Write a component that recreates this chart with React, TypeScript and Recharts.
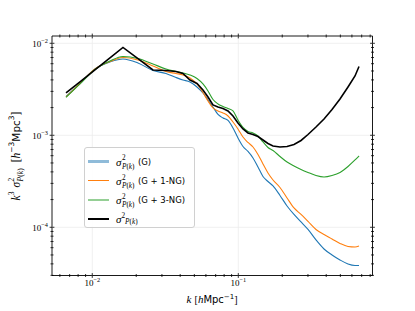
import React from "react";
import { LineChart, Line, XAxis, YAxis, ReferenceLine, ReferenceArea } from "recharts";

const W = 415;
const H = 311;
const PLOT_L = 52;
const PLOT_R = 372.5;
const PLOT_T = 36;
const PLOT_B = 275.5;

const SERIF = "'Liberation Serif', 'DejaVu Serif', serif";
const SANS = "'DejaVu Sans', sans-serif";

// k in h/Mpc
const kValues = [
  0.00661, 0.00824, 0.01043, 0.01322, 0.01623, 0.02056, 0.02604, 0.03197, 0.03743, 0.04179,
  0.04668, 0.05214, 0.0573, 0.06202, 0.0671, 0.07261, 0.07855, 0.08503, 0.09199, 0.09952,
  0.1077, 0.1165, 0.1261, 0.1364, 0.1476, 0.1597, 0.1729, 0.193, 0.2157, 0.2407,
  0.2689, 0.3002, 0.3405, 0.3864, 0.4384, 0.4972, 0.5641, 0.6299, 0.6709,
];

// Gaussian only
const gaussOnly = [
  0.002641, 0.003656, 0.005256, 0.006262, 0.00675, 0.006107, 0.005061, 0.004694, 0.004249, 0.003991,
  0.003796, 0.00335, 0.002882, 0.00242, 0.00203, 0.001683, 0.001542, 0.001449, 0.0012, 0.0009348,
  0.0007555, 0.0006666, 0.0005666, 0.0004523, 0.0003566, 0.0003146, 0.0002811, 0.0002217, 0.0001704, 0.0001378,
  0.0001142, 0.00009465, 0.00007278, 0.00005808, 0.00004999, 0.00004411, 0.00003991, 0.00003844, 0.00003844,
];

// Gaussian + 1 non-Gaussian term
const gaussOneNG = [
  0.002608, 0.003656, 0.005256, 0.006339, 0.007008, 0.006585, 0.005666, 0.004937, 0.004694, 0.004523,
  0.004196, 0.003611, 0.002918, 0.00236, 0.00198, 0.001837, 0.001748, 0.001621, 0.001395, 0.001171,
  0.0009583, 0.000835, 0.000746, 0.0006184, 0.0004875, 0.0003893, 0.0003267, 0.0002708, 0.0002083, 0.0001621,
  0.0001378, 0.0001156, 0.00009465, 0.0000835, 0.0000746, 0.00006666, 0.00006184, 0.00006107, 0.00006261,
];

// Gaussian + 3 non-Gaussian terms
const gaussThreeNG = [
  0.002576, 0.003611, 0.00519, 0.006419, 0.007185, 0.006837, 0.005957, 0.005256, 0.004937, 0.004754,
  0.004523, 0.004144, 0.003611, 0.00303, 0.002449, 0.002189, 0.002056, 0.001956, 0.001837, 0.001466,
  0.001216, 0.0011, 0.001059, 0.0009826, 0.0008456, 0.0007368, 0.0006835, 0.0005883, 0.0005126, 0.0004638,
  0.0004249, 0.0003942, 0.0003656, 0.0003521, 0.0003656, 0.0003942, 0.0004581, 0.0005388, 0.0005957,
];

// full variance
const fullVariance = [
  0.002884, 0.003815, 0.005152, 0.00694, 0.009004, 0.006803, 0.005126, 0.005061, 0.004937, 0.004694,
  0.003991, 0.003656, 0.003108, 0.002609, 0.002135, 0.002031, 0.001956, 0.001837, 0.001621, 0.00136,
  0.001171, 0.001059, 0.00102, 0.0009705, 0.0008889, 0.0008146, 0.000765, 0.000746, 0.0007555, 0.0007943,
  0.0008779, 0.00102, 0.001231, 0.001504, 0.001907, 0.002481, 0.00335, 0.004412, 0.005596,
];

const X_DOMAIN = [0.0053, 0.83];
const Y_DOMAIN = [2.99e-5, 0.012];

const xMajor = [0.01, 0.1];
const xMinor = [
  0.006, 0.007, 0.008, 0.009, 0.02, 0.03, 0.04, 0.05, 0.06, 0.07, 0.08, 0.09,
  0.2, 0.3, 0.4, 0.5, 0.6, 0.7, 0.8,
];
const yMajor = [1e-4, 1e-3, 1e-2];
const yMinor = [
  3e-5, 4e-5, 5e-5, 6e-5, 7e-5, 8e-5, 9e-5,
  2e-4, 3e-4, 4e-4, 5e-4, 6e-4, 7e-4, 8e-4, 9e-4,
  2e-3, 3e-3, 4e-3, 5e-3, 6e-3, 7e-3, 8e-3, 9e-3,
];

const data = kValues.map((k, i) => ({
  k,
  g: gaussOnly[i],
  g1: gaussOneNG[i],
  g3: gaussThreeNG[i],
  full: fullVariance[i],
}));

const expOf = (v: number) => String(Math.round(Math.log10(v))).replace("-", "\u2212");

function XTick(props: any) {
  const { x, y, payload } = props;
  const v = payload.value;
  const major = xMajor.includes(v);
  const len = major ? 2.4 : 1.5;
  return (
    <g>
      <line x1={x} x2={x} y1={y - len} y2={y + len} stroke="#000" strokeWidth={0.8} />
      <line x1={x} x2={x} y1={PLOT_T - len} y2={PLOT_T + len} stroke="#000" strokeWidth={0.8} />
      {major && (
        <text x={x} y={y + 10.5} textAnchor="middle" fontFamily={SERIF} fontSize={9} fill="#000">
          10
          <tspan dy={-3.8} fontSize={6.3}>
            {expOf(v)}
          </tspan>
        </text>
      )}
    </g>
  );
}

function YTick(props: any) {
  const { x, y, payload } = props;
  const v = payload.value;
  const major = yMajor.some((m) => Math.abs(m - v) / m < 1e-6);
  const len = major ? 2.4 : 1.5;
  return (
    <g>
      <line x1={x - len} x2={x + len} y1={y} y2={y} stroke="#000" strokeWidth={0.8} />
      <line x1={PLOT_R - len} x2={PLOT_R + len} y1={y} y2={y} stroke="#000" strokeWidth={0.8} />
      {major && (
        <text x={x - 4} y={y + 3.6} textAnchor="end" fontFamily={SERIF} fontSize={9} fill="#000">
          10
          <tspan dy={-3.8} fontSize={6.3}>
            {expOf(v)}
          </tspan>
        </text>
      )}
    </g>
  );
}

// sigma^2 with stacked super/subscript P(k)
function SigmaP({ size = 10, stacked = true }: { size?: number; stacked?: boolean }) {
  const small = size * 0.66;
  return (
    <span style={{ fontFamily: SERIF, whiteSpace: "nowrap", display: "inline-flex", alignItems: "center" }}>
      <span style={{ fontStyle: "italic", fontSize: size }}>σ</span>
      {stacked ? (
        <span
          style={{
            display: "inline-flex",
            flexDirection: "column",
            fontSize: small,
            lineHeight: 1.12,
            marginLeft: 0.5,
            position: "relative",
            top: 1,
          }}
        >
          <span>2</span>
          <span>
            <i>P</i>(<i>k</i>)
          </span>
        </span>
      ) : (
        <>
          <span style={{ fontSize: small, position: "relative", top: -3.5 }}>2</span>
          <span style={{ fontSize: small, position: "relative", top: 3 }}>
            <i>P</i>(<i>k</i>)
          </span>
        </>
      )}
    </span>
  );
}

const legendItems = [
  { label: "(G)", color: "rgba(31,119,180,0.5)", width: 2.6, stacked: true },
  { label: "(G + 1-NG)", color: "#ff7f0e", width: 1.1, stacked: true },
  { label: "(G + 3-NG)", color: "rgba(44,160,44,0.5)", width: 2.6, stacked: true },
  { label: "", color: "#000", width: 2.2, stacked: false },
];

export default function App() {
  return (
    <div style={{ position: "absolute", left: 0, top: 0, width: W, height: H, background: "#fff" }}>
      <LineChart
        width={W}
        height={H}
        data={data}
        margin={{ top: PLOT_T, right: W - PLOT_R, bottom: 0, left: 0 }}
      >
        <XAxis
          dataKey="k"
          type="number"
          scale="log"
          domain={X_DOMAIN}
          allowDataOverflow
          ticks={[...xMinor, ...xMajor]}
          interval={0}
          tickSize={0}
          tickMargin={0}
          tickLine={false}
          axisLine={false}
          tick={<XTick />}
          height={H - PLOT_B}
        />
        <YAxis
          type="number"
          scale="log"
          domain={Y_DOMAIN}
          allowDataOverflow
          ticks={[...yMinor, ...yMajor]}
          interval={0}
          tickSize={0}
          tickMargin={0}
          tickLine={false}
          axisLine={false}
          tick={<YTick />}
          width={PLOT_L}
        />
        {xMajor.map((v) => (
          <ReferenceLine key={`gx${v}`} x={v} stroke="#ececec" strokeWidth={0.8} />
        ))}
        {yMajor.map((v) => (
          <ReferenceLine key={`gy${v}`} y={v} stroke="#ececec" strokeWidth={0.8} />
        ))}
        <Line dataKey="g" type="monotone" stroke="#1f77b4" strokeWidth={1.1} dot={false} isAnimationActive={false} />
        <Line dataKey="g1" type="monotone" stroke="#ff7f0e" strokeWidth={1.1} dot={false} isAnimationActive={false} />
        <Line dataKey="g3" type="monotone" stroke="#2ca02c" strokeWidth={1.1} dot={false} isAnimationActive={false} />
        <Line dataKey="full" type="linear" stroke="#000" strokeWidth={1.6} dot={false} isAnimationActive={false} />
        <ReferenceArea
          x1={X_DOMAIN[0]}
          x2={X_DOMAIN[1]}
          y1={Y_DOMAIN[0]}
          y2={Y_DOMAIN[1]}
          fill="none"
          stroke="#000"
          strokeWidth={0.9}
        />
      </LineChart>

      {/* legend */}
      <div
        style={{
          position: "absolute",
          left: 84,
          top: 147,
          width: 111,
          height: 81,
          boxSizing: "border-box",
          border: "1px solid #d0d0d0",
          borderRadius: 3,
          background: "rgba(255,255,255,0.85)",
        }}
      >
        {legendItems.map((it, i) => (
          <div
            key={i}
            style={{
              position: "absolute",
              left: 3,
              top: 4 + i * 19.3,
              height: 19,
              display: "flex",
              alignItems: "center",
              whiteSpace: "nowrap",
            }}
          >
            <div style={{ width: 21, height: it.width, background: it.color, marginRight: 7 }} />
            <SigmaP size={11} stacked={it.stacked} />
            <span style={{ fontFamily: SANS, fontSize: 8.5, marginLeft: 3.5 }}>{it.label}</span>
          </div>
        ))}
      </div>

      {/* x label */}
      <div
        style={{
          position: "absolute",
          left: 212,
          top: 299,
          transform: "translate(-50%, -50%)",
          whiteSpace: "nowrap",
          fontSize: 10,
          fontFamily: SANS,
        }}
      >
        <i style={{ fontFamily: SERIF, fontSize: 11 }}>k</i>{" "}
        <span style={{ fontFamily: SERIF }}>[</span>
        <i style={{ fontFamily: SERIF, fontSize: 11 }}>h</i>Mpc
        <sup style={{ fontSize: 7 }}>−1</sup>
        <span style={{ fontFamily: SERIF }}>]</span>
      </div>

      {/* y label */}
      <div
        style={{
          position: "absolute",
          left: 15,
          top: 156,
          transform: "translate(-50%, -50%) rotate(-90deg)",
          whiteSpace: "nowrap",
          fontSize: 10.5,
          fontFamily: SANS,
          display: "flex",
          alignItems: "center",
        }}
      >
        <i style={{ fontFamily: SERIF, fontSize: 11.5 }}>k</i>
        <span style={{ fontSize: 7.5, fontFamily: SERIF, position: "relative", top: -4 }}>3</span>
        <span style={{ width: 4 }} />
        <SigmaP size={11.5} />
        <span style={{ width: 6 }} />
        <span style={{ fontFamily: SERIF, fontSize: 11.5 }}>[</span>
        <i style={{ fontFamily: SERIF, fontSize: 11.5 }}>h</i>
        <span style={{ fontSize: 7.5, position: "relative", top: -4 }}>−3</span>
        <span>Mpc</span>
        <span style={{ fontSize: 7.5, position: "relative", top: -4 }}>3</span>
        <span style={{ fontFamily: SERIF, fontSize: 11.5 }}>]</span>
      </div>
    </div>
  );
}
